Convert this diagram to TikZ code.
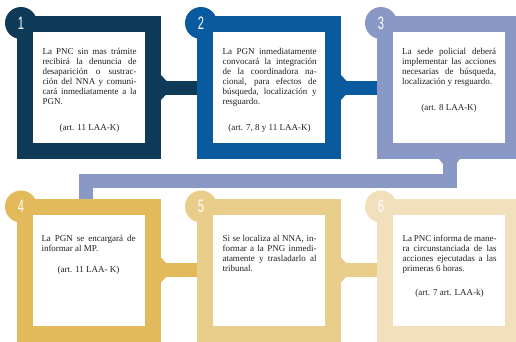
\documentclass[tikz,border=0pt]{standalone}
\usepackage{fontspec}
\setmainfont{Liberation Serif}
\newfontfamily\digitfont{Liberation Sans}
\usepackage{graphicx}
\usetikzlibrary{calc}
\definecolor{cA}{HTML}{0F3B59}
\definecolor{cB}{HTML}{0A5AA0}
\definecolor{cC}{HTML}{8A98C6}
\definecolor{cD}{HTML}{E2BA5B}
\definecolor{cE}{HTML}{E9CE8B}
\definecolor{cF}{HTML}{F1E0BB}
\definecolor{txtcol}{HTML}{231F20}
\newcommand\jl[1]{\makebox[94pt][s]{#1}\par}
\newcommand\lastl[1]{\makebox[94pt][l]{#1}\par}
\newcommand\citel[1]{\makebox[94pt][c]{#1}\par}
\newcommand\hfillet[2]{\fill[#2] ($(#1.east)+(0,-12.5)$) -- ++(5.5,6) -- ++(0,13) -- ($(#1.east)+(0,12.5)$) -- cycle;}
\begin{document}
\begin{tikzpicture}[x=1pt,y=-1pt,
  outerbox/.style={minimum width=144pt, minimum height=143pt, inner sep=0pt, draw=none, outer sep=0pt},
  innerbox/.style={fill=white, minimum width=112pt, minimum height=111pt, inner sep=0pt},
  badge/.style={circle, minimum size=32pt, inner sep=0pt, text=white, font=\digitfont\fontsize{18}{18}\selectfont},
  band/.style={line width=14pt},
  txt/.style={anchor=base west, inner sep=0pt, font=\fontsize{9}{10}\selectfont, text=txtcol}]
\path[use as bounding box, clip] (0,0) rectangle (516,341);
% outer boxes
\node[outerbox, fill=cA] (b1) at (89,87.5) {};
\node[outerbox, fill=cB] (b2) at (269,87.5) {};
\node[outerbox, fill=cC] (b3) at (449,87.5) {};
\node[outerbox, fill=cD] (b4) at (89,270) {};
\node[outerbox, fill=cE] (b5) at (269,270) {};
\node[outerbox, fill=cF] (b6) at (449,270) {};
% badges
\node[badge, fill=cA] (n1) at ($(b1.north west)+(4,7)$) {\scalebox{0.62}[1]{1}};
\node[badge, fill=cB] (n2) at ($(b2.north west)+(4,7)$) {\scalebox{0.62}[1]{2}};
\node[badge, fill=cC] (n3) at ($(b3.north west)+(4,7)$) {\scalebox{0.62}[1]{3}};
\node[badge, fill=cD] (n4) at ($(b4.north west)+(4,8)$) {\scalebox{0.62}[1]{4}};
\node[badge, fill=cE] (n5) at ($(b5.north west)+(4,8)$) {\scalebox{0.62}[1]{5}};
\node[badge, fill=cF] (n6) at ($(b6.north west)+(4,8)$) {\scalebox{0.62}[1]{6}};
% inner white squares
\node[innerbox] (w1) at (b1.center) {};
\node[innerbox] (w2) at (b2.center) {};
\node[innerbox] (w3) at (b3.center) {};
\node[innerbox] (w4) at (b4.center) {};
\node[innerbox] (w5) at (b5.center) {};
\node[innerbox] (w6) at (b6.center) {};
% texts
\node[txt] (t1) at ($(w1.north west)+(9.5,23)$) {\parbox[t]{94pt}{%
\jl{La PNC sin mas trámite}\jl{recibirá la denuncia de}\jl{desaparición o sustrac-}\jl{ción del NNA y comuni-}\jl{cará inmediatamente a la}\lastl{PGN.}\vspace{16pt}\citel{(art. 11 LAA-K)}}};
\node[txt] (t2) at ($(w2.north west)+(9.5,23)$) {\parbox[t]{94pt}{%
\jl{La PGN inmediatamente}\jl{convocará la integración}\jl{de la coordinadora na-}\jl{cional, para efectos de}\jl{búsqueda, localización y}\lastl{resguardo.}\vspace{16pt}\citel{(art. 7, 8 y 11 LAA-K)}}};
\node[txt] (t3) at ($(w3.north west)+(9,23)$) {\parbox[t]{94pt}{%
\jl{La sede policial deberá}\jl{implementar las acciones}\jl{necesarias de búsqueda,}\lastl{localización y resguardo.}\vspace{16pt}\citel{(art. 8 LAA-K)}}};
\node[txt] (t4) at ($(w4.north west)+(8.5,27)$) {\parbox[t]{94pt}{%
\jl{La PGN se encargará de}\lastl{informar al MP.}\vspace{11.5pt}\citel{(art. 11 LAA- K)}}};
\node[txt] (t5) at ($(w5.north west)+(9.5,27)$) {\parbox[t]{94pt}{%
\jl{Si se localiza al NNA, in-}\jl{formar a la PNG inmedi-}\jl{atamente y trasladarlo al}\lastl{tribunal.}}};
\node[txt] (t6) at ($(w6.north west)+(9.5,27)$) {\parbox[t]{94pt}{%
\jl{La PNC informa de mane-}\jl{ra circunstanciada de las}\jl{acciones ejecutadas a las}\lastl{primeras 6 horas.}\vspace{14.5pt}\citel{(art. 7 art. LAA-k)}}};
% connectors
\coordinate (mid) at (0,181);
\draw[band, cA] ([yshift=-0.5pt]b1.east) -- ([yshift=-0.5pt]b2.west);
\hfillet{b1}{cA}
\draw[band, cB] ([yshift=-0.5pt]b2.east) -- ([yshift=-0.5pt]b3.west);
\hfillet{b2}{cB}
\draw[band, cC] ([xshift=0.5pt]b3.south) -- ([xshift=0.5pt]b3.south |- mid) -| ([xshift=-3pt]b4.north);
\fill[cC] ($(b3.south)+(-10,0)$) -- ++(4,5) -- ++(13,0) -- ($(b3.south)+(11,0)$) -- cycle;
\draw[band, cD] (b4.east) -- (b5.west);
\hfillet{b4}{cD}
\draw[band, cE] (b5.east) -- (b6.west);
\hfillet{b5}{cE}
\end{tikzpicture}
\end{document}
